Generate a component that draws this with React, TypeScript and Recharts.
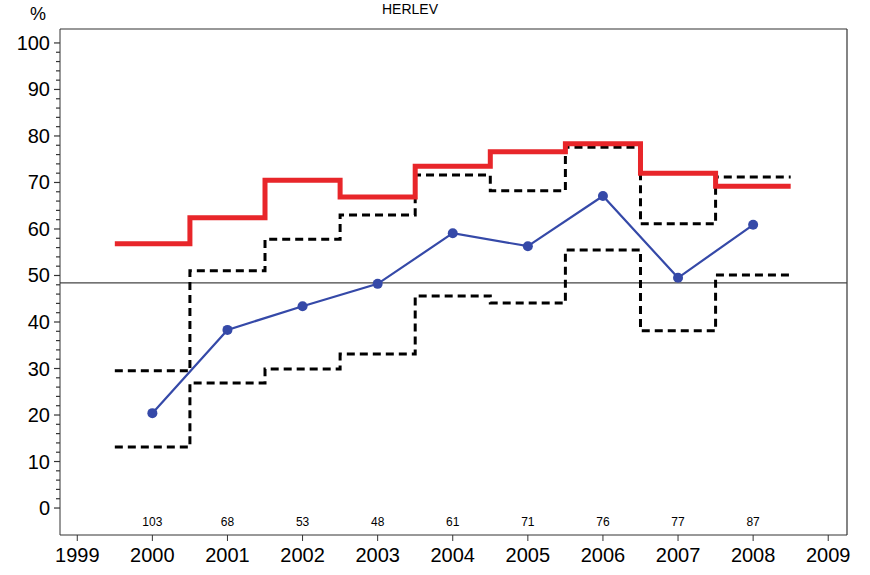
import React from 'react'
import {
  ComposedChart,
  Line,
  XAxis,
  YAxis,
  ReferenceLine
} from 'recharts'

const years = [2000, 2001, 2002, 2003, 2004, 2005, 2006, 2007, 2008]
const redValues = [56.8, 62.4, 70.5, 66.9, 73.5, 76.6, 78.3, 72.0, 69.2]
const upperValues = [29.5, 51.0, 57.8, 63.0, 71.6, 68.2, 77.6, 61.1, 71.2]
const lowerValues = [13.1, 26.9, 29.9, 33.1, 45.6, 44.1, 55.5, 38.1, 50.1]
const blueValues = [20.4, 38.3, 43.4, 48.2, 59.1, 56.3, 67.1, 49.5, 60.9]
const counts = [103, 68, 53, 48, 61, 71, 76, 77, 87]
const xTicks = [1999, 2000, 2001, 2002, 2003, 2004, 2005, 2006, 2007, 2008, 2009]
const yTicks = Array.from({ length: 51 }, (_, i) => i * 2)
const refValue = 48.4
const countLevel = -3

const X_DOMAIN: [number, number] = [1998.77, 2009.25]
const Y_DOMAIN: [number, number] = [-5.8, 103]
const FONT = '"Liberation Sans", Arial, Helvetica, sans-serif'

// step series: each year's value is held from year-0.5 to year+0.5
function stepPoints(vals: number[]) {
  const pts = years.map((yr, i) => ({ x: yr - 0.5, y: vals[i] }))
  pts.push({ x: years[years.length - 1] + 0.5, y: vals[vals.length - 1] })
  return pts
}

const redData = stepPoints(redValues)
const upperData = stepPoints(upperValues)
const lowerData = stepPoints(lowerValues)
const blueData = years.map((yr, i) => ({ x: yr, y: blueValues[i] }))
const countData = years.map((yr, i) => ({ x: yr, y: countLevel, n: counts[i] }))

const YTick = (props: any) => {
  const { x, y, payload } = props
  const major = payload.value % 10 === 0
  return (
    <g>
      <line x1={x - (major ? 6 : 4)} x2={x} y1={y} y2={y} stroke="#333" strokeWidth={1.2} />
      {major && (
        <text x={x - 10} y={y} dy={7} textAnchor="end" fontSize={20} fill="#000" fontFamily={FONT}>
          {payload.value}
        </text>
      )}
    </g>
  )
}

const CountDot = (props: any) => {
  const { cx, cy, payload, index } = props
  return (
    <text key={`n-${index}`} x={cx} y={cy} dy={4} textAnchor="middle" fontSize={12} fill="#000" fontFamily={FONT}>
      {payload.n}
    </text>
  )
}

export default function App() {
  return (
    <div style={{ position: 'fixed', left: 0, top: 0, width: 870, height: 575, background: '#fff', fontFamily: FONT }}>
      <div style={{ position: 'absolute', left: 0, width: 820, top: 2, textAlign: 'center', fontSize: 14, lineHeight: '14px' }}>
        HERLEV
      </div>
      <div style={{ position: 'absolute', left: 30, top: 5, fontSize: 18, lineHeight: '18px' }}>%</div>
      <ComposedChart width={870} height={575} margin={{ top: 29, right: 23, bottom: 0, left: 0 }}>
        <XAxis
          dataKey="x"
          type="number"
          domain={X_DOMAIN}
          ticks={xTicks}
          allowDataOverflow
          interval={0}
          height={40}
          tickSize={6}
          tickMargin={7}
          stroke="#333"
          tick={{ fill: '#000', fontSize: 20, fontFamily: FONT }}
        />
        <YAxis
          type="number"
          domain={Y_DOMAIN}
          ticks={yTicks}
          allowDataOverflow
          interval={0}
          width={60}
          tickSize={0}
          tickMargin={0}
          tickLine={false}
          stroke="#333"
          tick={<YTick />}
        />
        {/* top and right edges of the frame */}
        <ReferenceLine y={Y_DOMAIN[1]} stroke="#333" strokeWidth={1.2} />
        <ReferenceLine x={X_DOMAIN[1]} stroke="#333" strokeWidth={1.2} />
        <ReferenceLine y={refValue} stroke="#444" strokeWidth={1.3} />
        <Line data={upperData} dataKey="y" type="stepAfter" stroke="#000" strokeWidth={3} strokeDasharray="8 5" dot={false} isAnimationActive={false} />
        <Line data={lowerData} dataKey="y" type="stepAfter" stroke="#000" strokeWidth={3} strokeDasharray="8 5" dot={false} isAnimationActive={false} />
        <Line data={redData} dataKey="y" type="stepAfter" stroke="#e8262a" strokeWidth={5} dot={false} isAnimationActive={false} />
        <Line
          data={blueData}
          dataKey="y"
          type="linear"
          stroke="#3549a8"
          strokeWidth={2.2}
          dot={{ r: 5, fill: '#3549a8', stroke: '#3549a8', strokeWidth: 0 }}
          isAnimationActive={false}
        />
        <Line data={countData} dataKey="y" stroke="none" dot={<CountDot />} isAnimationActive={false} />
      </ComposedChart>
    </div>
  )
}
